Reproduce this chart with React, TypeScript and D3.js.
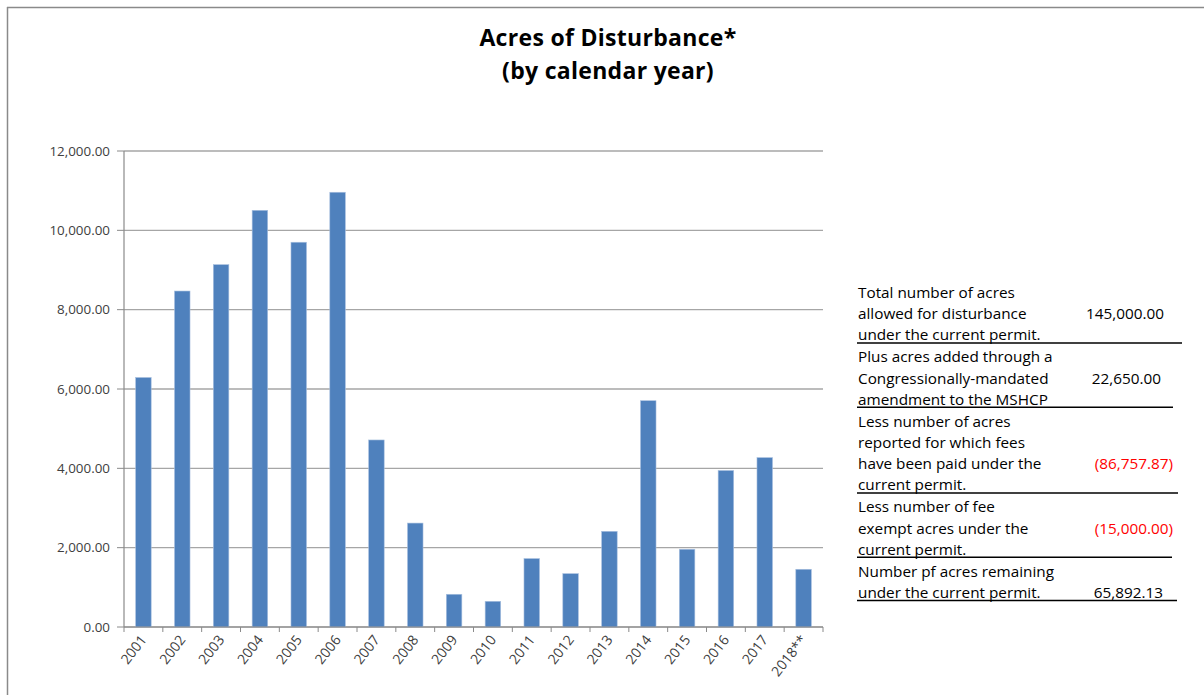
import React from "react";
import * as d3 from "d3";

const years = ["2001","2002","2003","2004","2005","2006","2007","2008","2009","2010","2011","2012","2013","2014","2015","2016","2017","2018**"];
const acres = [6290, 8470, 9135, 10505, 9700, 10960, 4715, 2620, 825, 648, 1725, 1345, 2412, 5705, 1960, 3945, 4270, 1455];
const yTicks = [0, 2000, 4000, 6000, 8000, 10000, 12000];
const titleLines = ["Acres of Disturbance*", "(by calendar year)"];

const tableLabels = [
  ["Total number of acres", "allowed for disturbance", "under the current permit."],
  ["Plus acres added through a", "Congressionally-mandated", "amendment to the MSHCP"],
  ["Less number of acres", "reported for which fees", "have been paid under the", "current permit."],
  ["Less number of fee", "exempt acres under the", "current permit."],
  ["Number pf acres remaining", "under the current permit."],
];
const tableValues = ["145,000.00", "22,650.00", "(86,757.87)", "(15,000.00)", "65,892.13"];
const tableNegative = [false, false, true, true, false];
const tableValueLine = [1, 1, 2, 1, 1];

const FONT = "'Open Sans', 'Noto Sans', sans-serif";

export default function App() {
  const W = 1204, H = 695;
  const x = d3.scaleBand<string>().domain(years).range([124, 823]).paddingInner(0.6).paddingOuter(0.3);
  const y = d3.scaleLinear().domain([0, 12000]).range([627, 151]);
  const fmt = d3.format(",.2f");
  const step = x.step();
  const boundaries = d3.range(years.length + 1).map((i) => 124 + i * step);

  const lineH = 21.2;
  let cursor = 298;
  const rows = tableLabels.map((lines, i) => {
    const top = cursor;
    const baselines = lines.map((_, j) => top + j * lineH);
    const lineY = baselines[baselines.length - 1] + 2.5;
    cursor = lineY + 19.5;
    return { lines, baselines, lineY, i };
  });
  const lineEnds = [1182, 1173, 1178, 1172, 1177];
  const valueRight = [1164, 1161, 1173, 1173, 1163];

  return (
    <svg width={W} height={H} style={{ position: "absolute", left: 0, top: 0, background: "#fff" }}>
      <rect x={0} y={0} width={W} height={H} fill="#fff" />
      <line x1={7} x2={W} y1={7.5} y2={7.5} stroke="#8a8a8a" strokeWidth={1.5} />
      <line x1={7.5} x2={7.5} y1={7} y2={H} stroke="#8a8a8a" strokeWidth={1.5} />

      {titleLines.map((t, i) => (
        <text key={t} x={608} y={45.7 + i * 32.8} textAnchor="middle" fontFamily={FONT} fontWeight="bold" fontSize={23}
          letterSpacing={0.3} fill="#000">
          {t}
        </text>
      ))}

      {yTicks.map((v) => (
        <g key={v}>
          <line x1={124} x2={823} y1={y(v)} y2={y(v)} stroke="#a6a6a6" strokeWidth={1.3} />
          <line x1={117} x2={124} y1={y(v)} y2={y(v)} stroke="#8a8a8a" strokeWidth={1} />
          <text x={110} y={y(v) + 4.8} textAnchor="end" fontFamily={FONT} fontSize={13.4} fill="#404040">
            {fmt(v)}
          </text>
        </g>
      ))}

      <line x1={124} x2={124} y1={151} y2={627} stroke="#8a8a8a" strokeWidth={1.2} />

      {years.map((yr, i) => (
        <rect key={yr} x={x(yr)} y={y(acres[i])} width={x.bandwidth()} height={y(0) - y(acres[i])}
          fill="#4F81BD" stroke="#a9c0df" strokeWidth={0.6} />
      ))}

      <line x1={124} x2={823} y1={627} y2={627} stroke="#8a8a8a" strokeWidth={1.2} />
      {boundaries.map((bx, i) => (
        <line key={i} x1={bx} x2={bx} y1={627} y2={632} stroke="#8a8a8a" strokeWidth={1} />
      ))}

      {years.map((yr) => {
        const cx = (x(yr) as number) + x.bandwidth() / 2 + 4;
        return (
          <text key={yr} transform={`translate(${cx},${640}) rotate(-52)`} textAnchor="end"
            fontFamily={FONT} fontSize={14} fill="#404040">
            {yr}
          </text>
        );
      })}

      {rows.map((r) => (
        <g key={r.i}>
          {r.lines.map((ln, j) => (
            <text key={j} x={858} y={r.baselines[j]} fontFamily={FONT} fontSize={15.3} fill="#000">
              {ln}
            </text>
          ))}
          <text x={valueRight[r.i]} y={r.baselines[tableValueLine[r.i]]} textAnchor="end" fontFamily={FONT} fontSize={15.3}
            fill={tableNegative[r.i] ? "#ff0000" : "#000"}>
            {tableValues[r.i]}
          </text>
          <line x1={857} x2={lineEnds[r.i]} y1={r.lineY} y2={r.lineY} stroke="#000" strokeWidth={1.5} />
        </g>
      ))}
    </svg>
  );
}
